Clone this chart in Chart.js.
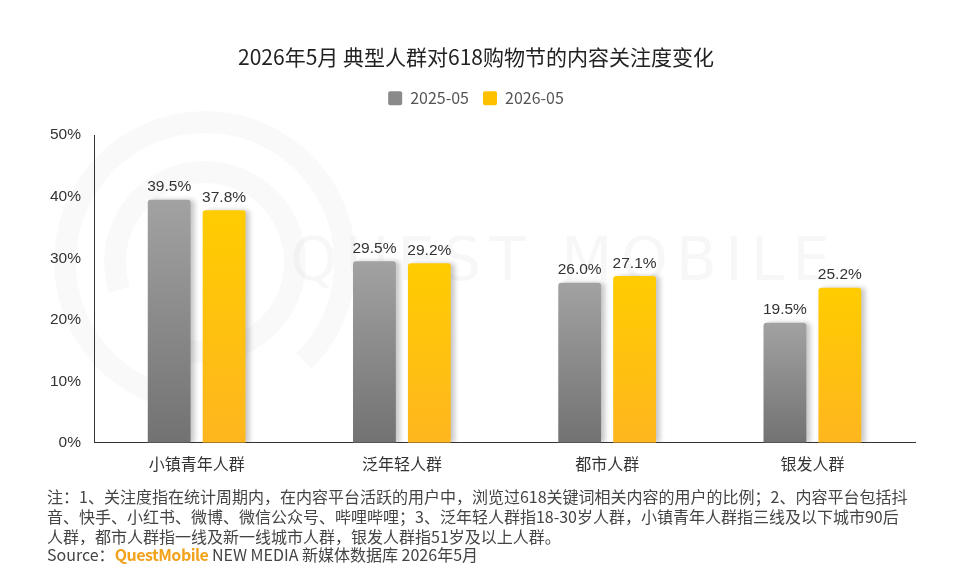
<!doctype html>
<html>

<head>
  <meta charset="utf-8">
  <script src="https://cdn.jsdelivr.net/npm/chart.js@4.4.1/dist/chart.umd.min.js"></script>
  <style>
    html, body { margin: 0; padding: 0; background: #fff; }
    #wrap { position: relative; width: 960px; height: 578px; overflow: hidden; }
    #note {
      position: absolute; left: 47px; top: 486px;
      font-family: "Noto Sans CJK SC", sans-serif; font-size: 16px; line-height: 20px;
      color: #444; white-space: nowrap;
    }
    #note div { height: 20px; }
    #note .src { height: 18px; line-height: 16px; }
    #note .qm { color: #f2a21b; font-weight: bold; letter-spacing: -0.5px; }
  </style>
</head>

<body>
  <div id="wrap">
    <canvas id="myChart" width="960" height="578"></canvas>
    <div id="note">
      <div>注：1、关注度指在统计周期内，在内容平台活跃的用户中，浏览过618关键词相关内容的用户的比例；2、内容平台包括抖</div>
      <div>音、快手、小红书、微博、微信公众号、哔哩哔哩；3、泛年轻人群指18-30岁人群，小镇青年人群指三线及以下城市90后</div>
      <div>人群，都市人群指一线及新一线城市人群，银发人群指51岁及以上人群。</div>
      <div class="src">Source：<span class="qm">QuestMobile</span> NEW MEDIA 新媒体数据库 2026年5月</div>
    </div>
  </div>
  <script>
    const categories = ['小镇青年人群', '泛年轻人群', '都市人群', '银发人群'];
    const seriesNames = ['2025-05', '2026-05'];
    const values2025 = [39.5, 29.5, 26.0, 19.5];
    const values2026 = [37.8, 29.2, 27.1, 25.2];
    const yTicks = [0, 10, 20, 30, 40, 50];

    const cjk = '"Noto Sans CJK SC", "Noto Sans", sans-serif';
    const latin = '"Liberation Sans", Arial, sans-serif';

    // 棒ごとに上から下へのグラデーション
    function barGradient(top, bottom) {
      return (c) => {
        const chart = c.chart;
        if (!chart.chartArea || c.type !== 'data') return bottom;
        const y = chart.scales.y;
        const y0 = y.getPixelForValue(c.raw);
        const y1 = y.getPixelForValue(0);
        const g = chart.ctx.createLinearGradient(0, y0, 0, y1);
        g.addColorStop(0, top);
        g.addColorStop(1, bottom);
        return g;
      };
    }

    const watermark = {
      id: 'watermark',
      beforeDraw: (chart) => {
        const ctx = chart.ctx;
        ctx.save();
        ctx.strokeStyle = 'rgba(0,0,0,0.025)';
        ctx.lineWidth = 22;
        ctx.beginPath();
        ctx.arc(205, 262, 140, Math.PI * 0.55, Math.PI * 2.25);
        ctx.stroke();
        ctx.beginPath();
        ctx.arc(205, 262, 90, Math.PI * 0.9, Math.PI * 2.6);
        ctx.stroke();
        ctx.fillStyle = 'rgba(0,0,0,0.03)';
        ctx.font = '60px "DejaVu Sans", sans-serif';
        ctx.letterSpacing = '8px';
        ctx.textBaseline = 'middle';
        ctx.fillText('QUEST MOBILE', 290, 264);
        ctx.restore();
      }
    };

    const legendMargin = {
      id: 'legendMargin',
      beforeInit: (chart) => {
        const fit = chart.legend.fit;
        chart.legend.fit = function () {
          fit.bind(chart.legend)();
          this.height += 19;
        };
      }
    };

    const shadow = {
      id: 'barShadow',
      beforeDatasetsDraw: (chart) => {
        const ctx = chart.ctx;
        ctx.save();
        ctx.shadowColor = 'rgba(0,0,0,0.22)';
        ctx.shadowBlur = 5;
        ctx.shadowOffsetX = 4;
        ctx.shadowOffsetY = 0;
      },
      afterDatasetsDraw: (chart) => {
        chart.ctx.restore();
      }
    };

    const valueLabels = {
      id: 'valueLabels',
      afterDatasetsDraw: (chart) => {
        const ctx = chart.ctx;
        ctx.save();
        ctx.font = '15.5px ' + latin;
        ctx.fillStyle = '#333';
        ctx.textAlign = 'center';
        ctx.textBaseline = 'bottom';
        chart.data.datasets.forEach((ds, i) => {
          chart.getDatasetMeta(i).data.forEach((bar, j) => {
            ctx.fillText(ds.data[j].toFixed(1) + '%', bar.x, bar.y - 5);
          });
        });
        ctx.restore();
      }
    };

    const legendColors = ['#8a8a8a', '#ffc000'];

    new Chart(document.getElementById('myChart'), {
      type: 'bar',
      data: {
        labels: categories,
        datasets: [{
          label: seriesNames[0],
          data: values2025,
          backgroundColor: barGradient('#a2a2a2', '#727272'),
        }, {
          label: seriesNames[1],
          data: values2026,
          backgroundColor: barGradient('#ffcc00', '#ffb61f'),
        }].map(d => ({
          ...d,
          borderRadius: { topLeft: 3, topRight: 3 },
          borderSkipped: 'start',
          categoryPercentage: 0.535,
          barPercentage: 0.78
        }))
      },
      options: {
        responsive: false,
        animation: false,
        layout: { padding: { left: 37, right: 45, bottom: 92 } },
        plugins: {
          title: {
            display: true,
            text: '2026年5月 典型人群对618购物节的内容关注度变化',
            color: '#222',
            font: { family: cjk, size: 21, weight: 'normal' },
            padding: { top: 44, bottom: 7 }
          },
          legend: {
            labels: {
              color: '#555',
              font: { family: cjk, size: 16 },
              boxWidth: 14,
              boxHeight: 14,
              useBorderRadius: true,
              borderRadius: 2,
              padding: 14,
              generateLabels: (chart) => chart.data.datasets.map((ds, i) => ({
                text: ds.label,
                fillStyle: legendColors[i],
                strokeStyle: legendColors[i],
                lineWidth: 0,
                borderRadius: 2,
                fontColor: '#555',
                datasetIndex: i
              }))
            }
          },
          tooltip: { enabled: false }
        },
        scales: {
          x: {
            grid: { display: false, drawTicks: false },
            border: { color: '#333', width: 1 },
            ticks: { color: '#333', font: { family: cjk, size: 16 }, padding: 12 }
          },
          y: {
            min: 0,
            max: 50,
            afterBuildTicks: (axis) => { axis.ticks = yTicks.map(v => ({ value: v })); },
            grid: { display: false, drawTicks: false },
            border: { color: '#333', width: 1 },
            ticks: {
              color: '#333',
              font: { family: latin, size: 15.5 },
              padding: 13,
              callback: (v) => v + '%'
            }
          }
        }
      },
      plugins: [watermark, legendMargin, shadow, valueLabels]
    });
  </script>
</body>

</html>
